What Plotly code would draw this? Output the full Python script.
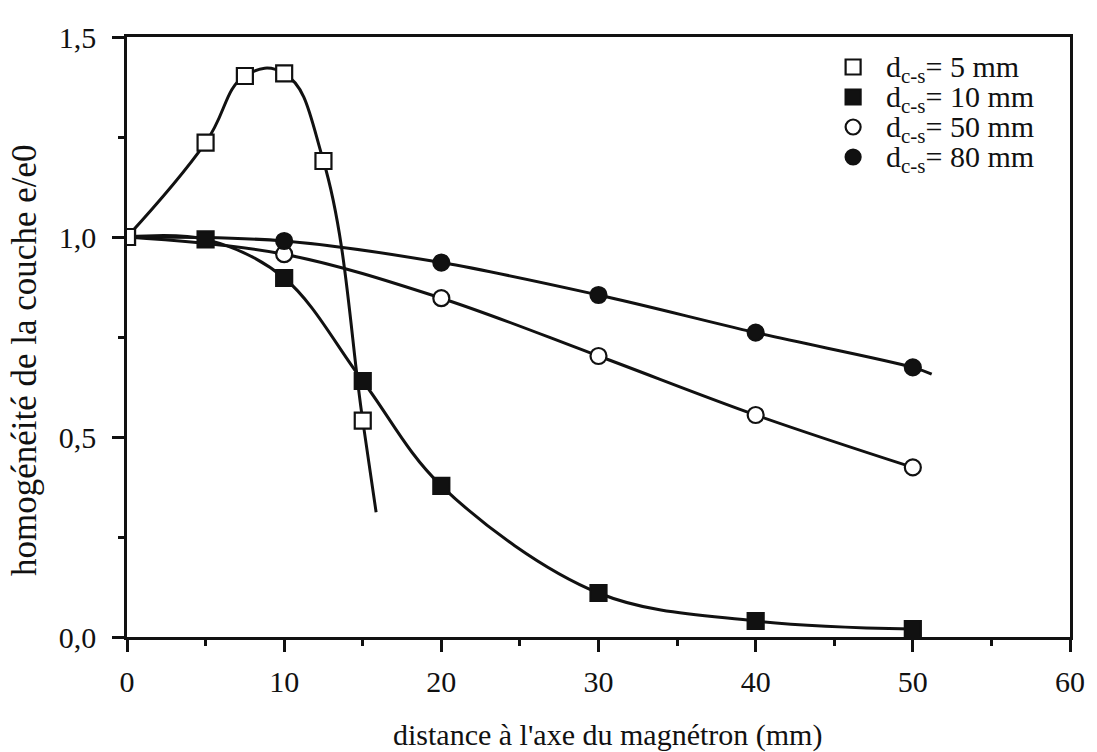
import plotly.graph_objects as go

# ---- data ----
x_5mm = [0, 5, 7.5, 10, 12.5, 15]
y_5mm = [1.0, 1.236, 1.4025, 1.409, 1.19, 0.541]
tail_x_5mm = [15.85]
tail_y_5mm = [0.312]

x_10mm = [0, 5, 10, 15, 20, 30, 40, 50]
y_10mm = [1.0, 0.994, 0.8975, 0.64, 0.378, 0.11, 0.04, 0.02]

x_50mm = [0, 10, 20, 30, 40, 50]
y_50mm = [1.0, 0.957, 0.847, 0.7025, 0.555, 0.424]

x_80mm = [0, 10, 20, 30, 40, 50]
y_80mm = [1.0, 0.99, 0.936, 0.855, 0.761, 0.674]
tail_x_80mm = [51.2]
tail_y_80mm = [0.657]

series_names = ["d<sub>c-s</sub>= 5 mm", "d<sub>c-s</sub>= 10 mm",
                "d<sub>c-s</sub>= 50 mm", "d<sub>c-s</sub>= 80 mm"]
series_symbols = ["square", "square", "circle", "circle"]
x_ticks = [0, 10, 20, 30, 40, 50, 60]
y_ticks = [0.0, 0.5, 1.0, 1.5]
x_title = "distance à l'axe du magnétron (mm)"
y_title = "homogénéité de la couche e/e0"

FONT = "Liberation Serif, Times New Roman, DejaVu Serif, serif"
BLACK = "#111111"
WHITE = "white"
series_fills = [WHITE, BLACK, WHITE, BLACK]

fig = go.Figure()

# smooth curves (drawn first)
curves = [
    (x_50mm, y_50mm, 1.0),
    (x_80mm + tail_x_80mm, y_80mm + tail_y_80mm, 1.0),
    (x_10mm, y_10mm, 1.0),
    (x_5mm + tail_x_5mm, y_5mm + tail_y_5mm, 1.25),
]
for cx, cy, sm in curves:
    fig.add_trace(go.Scatter(x=cx, y=cy, mode="lines",
                             line=dict(color=BLACK, width=3, shape="spline", smoothing=sm),
                             showlegend=False, hoverinfo="skip"))

# data markers (draw order: 50, 80, 10, 5 so that the 5 mm square sits on top at x=0)
marker_specs = [
    (x_50mm, y_50mm, 2),
    (x_80mm, y_80mm, 3),
    (x_10mm, y_10mm, 1),
    (x_5mm, y_5mm, 0),
]
for mx, my, i in marker_specs:
    fig.add_trace(go.Scatter(x=mx, y=my, mode="markers", showlegend=False,
                             marker=dict(symbol=series_symbols[i], size=16, color=series_fills[i],
                                         line=dict(color=BLACK, width=2.2))))

# legend (symbols on an overlay axis in plot-fraction units, labels as text)
LEG_X_SYM, LEG_X_TXT, LEG_Y0, LEG_STEP = 0.770, 0.803, 0.950, 0.050
leg_y = [LEG_Y0 - k * LEG_STEP for k in range(len(series_names))]
fig.add_trace(go.Scatter(x=[LEG_X_SYM] * len(series_names), y=leg_y, mode="markers",
                         xaxis="x2", yaxis="y2", showlegend=False, hoverinfo="skip",
                         marker=dict(symbol=series_symbols, size=15, color=series_fills,
                                     line=dict(color=BLACK, width=2.2))))
for name, yy in zip(series_names, leg_y):
    fig.add_annotation(text=name, x=LEG_X_TXT, xref="x2", y=yy, yref="y2",
                       xanchor="left", yanchor="middle", yshift=-2, showarrow=False,
                       font=dict(family=FONT, size=30, color=BLACK))

axis_common = dict(showline=True, linecolor=BLACK, linewidth=2.5, mirror=True,
                   ticks="outside", tickcolor=BLACK, tickwidth=2.5, ticklen=12,
                   showgrid=False, zeroline=False,
                   tickfont=dict(family=FONT, size=30, color=BLACK))

fig.update_xaxes(range=[0, 60], tickvals=x_ticks,
                 minor=dict(dtick=5, tick0=0, ticks="outside", ticklen=6, tickwidth=2.5, tickcolor=BLACK),
                 ticklabelstandoff=4, **axis_common)
fig.update_yaxes(range=[0, 1.5], tickvals=y_ticks, tickformat=".1f",
                 minor=dict(dtick=0.25, tick0=0, ticks="outside", ticklen=6, tickwidth=2.5, tickcolor=BLACK),
                 ticklabelstandoff=10, **axis_common)

fig.add_annotation(text=x_title, x=0.51, xref="paper", y=0, yref="paper",
                   yshift=-98, yanchor="middle", xanchor="center", showarrow=False,
                   font=dict(family=FONT, size=30, color=BLACK))
fig.add_annotation(text=y_title, x=0, xref="paper", xshift=-103, y=0.46, yref="paper",
                   xanchor="center", yanchor="middle", textangle=-90, showarrow=False,
                   font=dict(family=FONT, size=35, color=BLACK))

fig.update_layout(
    width=1097, height=752,
    margin=dict(l=127, r=20, t=37, b=115),
    paper_bgcolor="white", plot_bgcolor="white",
    separators=", ",
    font=dict(family=FONT, color=BLACK),
    showlegend=False,
    xaxis2=dict(overlaying="x", range=[0, 1], visible=False, fixedrange=True),
    yaxis2=dict(overlaying="y", range=[0, 1], visible=False, fixedrange=True),
)

# remove the page's default body margin so the figure sits at the window's top-left corner
fig.write_html("out.html", config={"displayModeBar": False},
               post_script="document.body.style.margin='0px';document.body.style.overflow='hidden';")
